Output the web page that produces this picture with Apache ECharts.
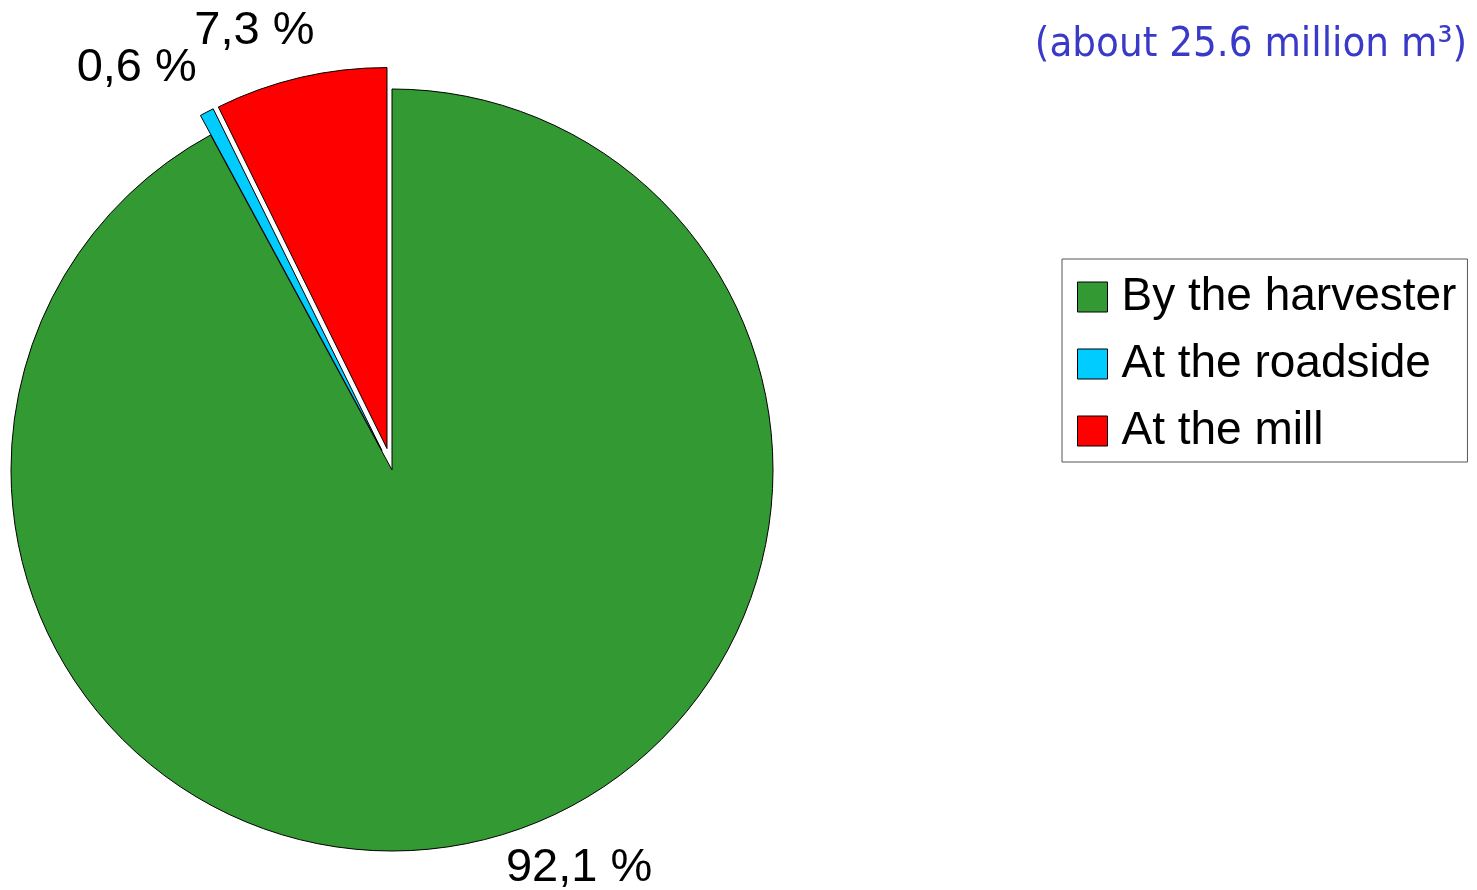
<!DOCTYPE html>
<html>
<head>
<meta charset="utf-8">
<title>Harvested volume by measuring point</title>
<script src="https://cdn.jsdelivr.net/npm/echarts@6/dist/echarts.min.js"></script>
<style>
  html, body { margin: 0; padding: 0; background: #fff; }
  #chart { width: 1477px; height: 890px; }
</style>
</head>
<body>
<div id="chart"></div>
<script>
  // 数据
  const categories = ['By the harvester', 'At the roadside', 'At the mill']
  const shares = [92.1, 0.6, 7.3]
  const exploded = [false, true, true]
  const titleText = '(about 25.6 million m³)'

  // 颜色 / 标签线长度 (label placement only)
  const colors = ['#339933', '#00ccff', '#ff0000']
  const lineLen = [30, 50, 48]
  const lineLen2 = [8, -18, -30]

  const chart = echarts.init(document.getElementById('chart'), null, { renderer: 'canvas' })

  const pieData = categories.map((name, i) => ({
    name: name,
    value: shares[i],
    selected: exploded[i],
    itemStyle: { color: colors[i] },
    labelLine: { show: false, length: lineLen[i], length2: lineLen2[i] }
  }))

  chart.setOption({
    backgroundColor: '#fff',
    animation: false,
    title: {
      text: titleText,
      right: 10,
      top: 24,
      padding: 0,
      textStyle: {
        color: '#3a3ac8',
        fontFamily: '"DejaVu Sans Condensed", "DejaVu Sans", sans-serif',
        fontSize: 41.6,
        fontWeight: 'normal'
      }
    },
    // 图例
    legend: {
      orient: 'vertical',
      left: 1062,
      top: 259,
      padding: [12, 11, 5, 15],
      borderColor: '#555',
      borderWidth: 1,
      icon: 'rect',
      itemWidth: 30,
      itemHeight: 30,
      itemGap: 15,
      itemStyle: { borderColor: '#000', borderWidth: 1 },
      textStyle: {
        color: '#000',
        fontFamily: '"Liberation Sans", Arial, sans-serif',
        fontSize: 46,
        lineHeight: 46,
        padding: [6, 0, 0, 9]
      },
      data: categories
    },
    series: [{
      type: 'pie',
      center: [392, 470],
      radius: 381,
      startAngle: 90,
      clockwise: true,
      selectedMode: 'multiple',
      selectedOffset: 22,
      avoidLabelOverlap: false,
      labelLayout: { hideOverlap: false },
      emphasis: { disabled: true },
      select: { itemStyle: { borderColor: '#000', borderWidth: 1 } },
      itemStyle: { borderColor: '#000', borderWidth: 1 },
      label: {
        show: true,
        position: 'outside',
        color: '#000',
        fontFamily: '"Liberation Sans", Arial, sans-serif',
        fontSize: 47,
        distanceToLabelLine: 5,
        formatter: p => p.value.toFixed(1).replace('.', ',') + ' %'
      },
      labelLine: { show: false },
      data: pieData
    }]
  })
</script>
</body>
</html>
